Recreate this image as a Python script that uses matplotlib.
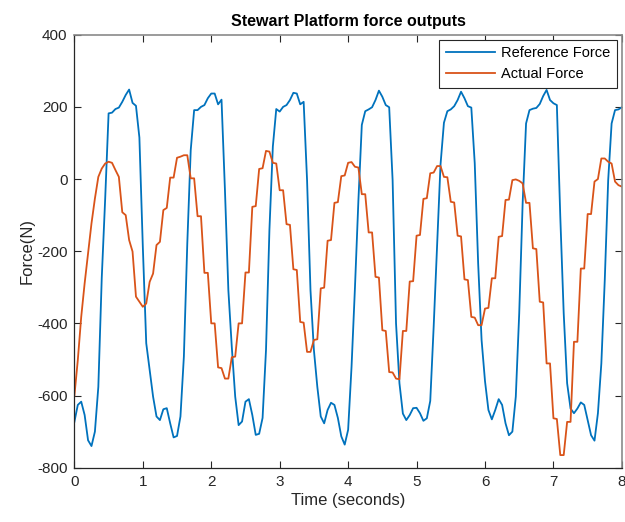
import numpy as np
import matplotlib.pyplot as plt

plt.rcParams['font.family'] = ['Liberation Sans', 'DejaVu Sans']
plt.rcParams['axes.unicode_minus'] = False

# sample times (s)
t = np.arange(0, 8.001, 0.05)

# reference force (N)
f_ref = [-673, -626, -617, -654, -724, -740, -700, -576, -274, -55,
         182, 184, 194, 198, 214, 233, 248, 211, 203, 115,
         -187, -455, -529, -603, -658, -668, -638, -635, -677, -716,
         -712, -658, -492, -178, 80, 191, 191, 200, 205, 224,
         237, 237, 207, 220, -30, -308, -465, -603, -682, -672,
         -617, -610, -654, -709, -706, -662, -474, -141, 90, 194,
         187, 200, 205, 219, 239, 237, 207, 214, -3, -308,
         -474, -576, -658, -677, -640, -620, -626, -662, -713, -736,
         -695, -520, -300, -60, 150, 188, 193, 199, 219, 245,
         228, 205, 199, -3, -400, -566, -650, -668, -654, -635,
         -634, -649, -670, -663, -615, -409, -182, 40, 156, 188,
         193, 202, 219, 242, 224, 202, 198, 44, -234, -446,
         -560, -640, -666, -640, -610, -626, -677, -710, -700, -603,
         -372, -67, 154, 191, 195, 197, 208, 230, 247, 219,
         210, 205, -104, -372, -566, -636, -649, -636, -619, -626,
         -668, -710, -725, -649, -511, -280, -3, 154, 191, 193,
         199]

# actual force (N)
f_act = [-601, -502, -382, -289, -206, -123, -54, 6, 29, 43,
         48, 45, 25, 6, -92, -100, -169, -201, -326, -340,
         -354, -345, -285, -262, -183, -174, -86, -80, 4, 4,
         59, 62, 66, 66, 2, 2, -103, -103, -260, -260,
         -400, -400, -522, -524, -553, -553, -494, -492, -400, -400,
         -259, -259, -77, -75, 28, 30, 78, 76, 45, 43,
         -31, -31, -125, -127, -250, -252, -396, -398, -479, -479,
         -446, -444, -303, -301, -171, -169, -66, -64, 8, 10,
         45, 47, 34, 32, -42, -42, -148, -148, -271, -273,
         -419, -421, -535, -536, -553, -555, -421, -421, -284, -283,
         -157, -155, -55, -53, 16, 18, 36, 36, 6, 5,
         -63, -65, -157, -159, -278, -280, -382, -384, -405, -405,
         -359, -357, -275, -275, -160, -158, -58, -57, -3, -1,
         -5, -12, -66, -66, -192, -194, -340, -342, -511, -511,
         -663, -665, -765, -765, -673, -673, -451, -451, -248, -248,
         -97, -97, -7, 0, 57, 57, 48, 43, -7, -17,
         -21]

fig = plt.figure(figsize=(6.25, 5.22), dpi=100)
ax = fig.add_axes([0.119, 0.104, 0.876, 0.8295])

ax.plot(t, f_ref, color='#0072BD', lw=1.3, label='Reference Force')
ax.plot(t, f_act, color='#D95319', lw=1.3, label='Actual Force')

ax.set_xlim(0, 8)
ax.set_ylim(-800, 400)
ax.set_xticks(range(0, 9))
ax.set_yticks(range(-800, 401, 200))

ax.tick_params(direction='in', length=5, width=0.8, top=True, right=True,
               labelsize=11, colors='#262626', pad=5)
for side in ['left', 'bottom']:
    ax.spines[side].set_color('#262626')
    ax.spines[side].set_linewidth(0.9)
for side in ['top', 'right']:
    ax.spines[side].set_color('#8a8a8a')
    ax.spines[side].set_linewidth(1.2)

ax.set_title('Stewart Platform force outputs', fontsize=11.5,
             fontweight='bold', pad=6)
ax.set_xlabel('Time (seconds)', fontsize=12, color='#262626', labelpad=3)
ax.set_ylabel('Force(N)', fontsize=12, color='#262626', labelpad=2)

leg = ax.legend(loc='upper right', fontsize=10.5, fancybox=False,
                edgecolor='#262626', framealpha=1, handlelength=3.4,
                borderaxespad=0.35, borderpad=0.45, labelspacing=0.45,
                handletextpad=0.4)
leg.get_frame().set_linewidth(0.8)

plt.savefig('out.png', dpi=100)
